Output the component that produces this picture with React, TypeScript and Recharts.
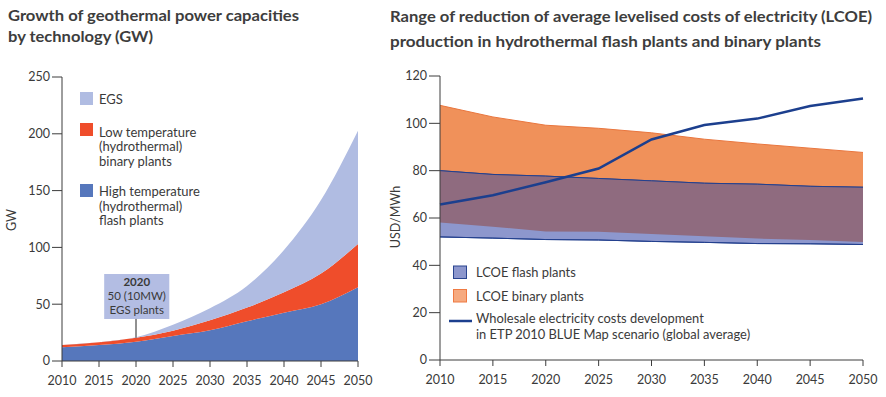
import {
  Area,
  AreaChart,
  ComposedChart,
  Line,
  ReferenceArea,
  ReferenceLine,
  XAxis,
  YAxis,
} from "recharts"

// left panel: installed capacity, GW (stacked)
const years = [2010, 2015, 2020, 2025, 2030, 2035, 2040, 2045, 2050]
const flashGW = [12, 14, 17, 22, 27, 35, 42.5, 50, 65]
const binaryGW = [2, 2.5, 3.5, 4.7, 8.8, 12, 18, 27, 38]
const egsGW = [0, 0, 0.5, 5.3, 10.6, 19, 37.2, 64.7, 99.7]
const gwTicks = [0, 50, 100, 150, 200, 250]

// right panel: LCOE ranges and wholesale price, USD/MWh
const flashLow = [52, 51.5, 50.9, 50.7, 50.1, 49.7, 49.2, 49.1, 48.8]
const flashHigh = [80, 78.4, 77.7, 76.7, 75.7, 74.7, 74.3, 73.4, 73]
const binaryLow = [58.1, 56.3, 54.3, 54.2, 53.2, 52.3, 51.3, 50.7, 49.9]
const binaryHigh = [107.6, 102.7, 99.2, 97.9, 96, 93.3, 91.3, 89.5, 87.7]
const wholesale = [65.7, 69.6, 75.1, 80.9, 93.2, 99.3, 102, 107.3, 110.5]
const usdTicks = [0, 20, 40, 60, 80, 100, 120]

// 2020 call-out box (in data units)
const noteBox = { x1: 2015.7, x2: 2024.5, y1: 37, y2: 76.6 }
const noteLines = ["2020", "50 (10MW)", "EGS plants"]

const TEXT = "#3a3a3a"
const AXIS = "#3c3c3c"
const FONT = "Lato, 'Open Sans', sans-serif"

const capData = years.map((year, i) => ({
  year,
  flash: flashGW[i],
  binary: binaryGW[i],
  egs: egsGW[i],
}))

const costData = years.map((year, i) => ({
  year,
  flash: [flashLow[i], flashHigh[i]],
  binary: [binaryLow[i], binaryHigh[i]],
  overlap: [
    Math.max(flashLow[i], binaryLow[i]),
    Math.min(flashHigh[i], binaryHigh[i]),
  ],
  wholesale: wholesale[i],
}))

const tickStyle = { fontSize: 12.5, fill: TEXT }

function NoteLabel(props: any) {
  const { x, y, width } = props.viewBox
  const cx = x + width / 2
  return (
    <g fontSize={11.5} fill={TEXT} textAnchor="middle">
      <text x={cx} y={y + 12.5} fontWeight={700}>
        {noteLines[0]}
      </text>
      <text x={cx} y={y + 26.5}>
        {noteLines[1]}
      </text>
      <text x={cx} y={y + 40}>
        {noteLines[2]}
      </text>
    </g>
  )
}

function Overlay() {
  return (
    <svg
      width={886}
      height={397}
      style={{ position: "absolute", left: 0, top: 0, pointerEvents: "none" }}
      fontFamily={FONT}
      fill={TEXT}
    >
      <g fontSize={16} fontWeight={700} fill="#3d3d3d">
        <text x={8} y={21} textLength={291} lengthAdjust="spacingAndGlyphs">
          Growth of geothermal power capacities
        </text>
        <text x={8} y={41.5} textLength={145} lengthAdjust="spacingAndGlyphs">
          by technology (GW)
        </text>
        <text x={390} y={21.5} textLength={482} lengthAdjust="spacingAndGlyphs">
          Range of reduction of average levelised costs of electricity (LCOE)
        </text>
        <text x={390} y={47} textLength={431} lengthAdjust="spacingAndGlyphs">
          production in hydrothermal flash plants and binary plants
        </text>
      </g>

      <text x={12} y={220} fontSize={12.5} textAnchor="middle" transform="rotate(-90 12 220)" dy={4}>
        GW
      </text>
      <text x={396} y={217} fontSize={12.5} textAnchor="middle" transform="rotate(-90 396 217)" dy={4}>
        USD/MWh
      </text>

      {/* left legend */}
      <g fontSize={13}>
        <rect x={80} y={92} width={13} height={13} fill="#b0bce2" />
        <text x={99} y={104}>EGS</text>
        <rect x={80} y={123} width={13} height={13} fill="#ef4d2b" />
        <text x={99} y={136.5}>Low temperature</text>
        <text x={99} y={151}>(hydrothermal)</text>
        <text x={99} y={165.5}>binary plants</text>
        <rect x={80} y={184} width={13} height={13} fill="#5677bc" />
        <text x={99} y={196}>High temperature</text>
        <text x={99} y={210.5}>(hydrothermal)</text>
        <text x={99} y={225}>flash plants</text>
      </g>

      {/* right legend */}
      <g fontSize={12.9}>
        <rect x={453.5} y={266} width={13} height={12.5} fill="#8d97cd" stroke="#2a4590" strokeWidth={1} />
        <text x={476} y={277}>LCOE flash plants</text>
        <rect x={453.5} y={289.5} width={13} height={12.5} fill="#f6aa80" stroke="#ef7a42" strokeWidth={1} />
        <text x={476} y={301}>LCOE binary plants</text>
        <line x1={449} x2={472} y1={321} y2={321} stroke="#1c3f8e" strokeWidth={2.5} />
        <text x={476} y={323}>Wholesale electricity costs development</text>
        <text x={476} y={339}>in ETP 2010 BLUE Map scenario (global average)</text>
      </g>
    </svg>
  )
}

export default function App() {
  return (
    <div
      style={{
        position: "absolute",
        left: 0,
        top: 0,
        width: 886,
        height: 397,
        background: "#fff",
        fontFamily: FONT,
      }}
    >
      <div style={{ position: "absolute", left: 0, top: 0 }}>
        <AreaChart
          width={380}
          height={397}
          data={capData}
          margin={{ top: 77, right: 22, bottom: 6, left: 0 }}
        >
          <XAxis
            dataKey="year"
            type="number"
            domain={[2010, 2050]}
            ticks={years}
            tick={tickStyle}
            tickSize={6}
            tickMargin={9}
            height={30}
            stroke={AXIS}
            interval={0}
          />
          <YAxis
            type="number"
            domain={[0, 250]}
            ticks={gwTicks}
            tick={tickStyle}
            tickSize={10}
            tickMargin={2}
            width={62}
            stroke={AXIS}
            interval={0}
          />
          <Area
            type="monotone"
            dataKey="flash"
            stackId="cap"
            fill="#5677bc"
            fillOpacity={1}
            stroke="none"
            isAnimationActive={false}
          />
          <Area
            type="monotone"
            dataKey="binary"
            stackId="cap"
            fill="#ef4d2b"
            fillOpacity={1}
            stroke="none"
            isAnimationActive={false}
          />
          <Area
            type="monotone"
            dataKey="egs"
            stackId="cap"
            fill="#b0bce2"
            fillOpacity={1}
            stroke="none"
            isAnimationActive={false}
          />
          <ReferenceLine
            segment={[
              { x: 2020, y: flashGW[2] + binaryGW[2] },
              { x: 2020, y: noteBox.y1 },
            ]}
            stroke="#222"
            strokeWidth={1}
          />
          <ReferenceArea
            x1={noteBox.x1}
            x2={noteBox.x2}
            y1={noteBox.y1}
            y2={noteBox.y2}
            fill="#b3bde3"
            fillOpacity={1}
            stroke="none"
            label={<NoteLabel />}
          />
        </AreaChart>
      </div>

      <div style={{ position: "absolute", left: 380, top: 0 }}>
        <ComposedChart
          width={506}
          height={397}
          data={costData}
          margin={{ top: 76, right: 23, bottom: 7, left: 0 }}
        >
          <XAxis
            dataKey="year"
            type="number"
            domain={[2010, 2050]}
            ticks={years}
            tick={tickStyle}
            tickSize={6}
            tickMargin={9}
            height={30}
            stroke={AXIS}
            interval={0}
          />
          <YAxis
            type="number"
            domain={[0, 120]}
            ticks={usdTicks}
            tick={tickStyle}
            tickSize={11}
            tickMargin={2}
            width={60}
            stroke={AXIS}
            interval={0}
          />
          <Area
            type="linear"
            dataKey="binary"
            fill="#f0915a"
            fillOpacity={1}
            stroke="#e9763e"
            strokeWidth={1}
            isAnimationActive={false}
          />
          <Area
            type="linear"
            dataKey="flash"
            fill="#8d97cd"
            fillOpacity={1}
            stroke="#23408e"
            strokeWidth={1}
            isAnimationActive={false}
          />
          <Area
            type="linear"
            dataKey="overlap"
            fill="#8f6b7f"
            fillOpacity={1}
            stroke="none"
            isAnimationActive={false}
          />
          <Area
            type="linear"
            dataKey="flash"
            fill="none"
            stroke="#23408e"
            strokeWidth={1}
            isAnimationActive={false}
          />
          <Line
            type="linear"
            dataKey="wholesale"
            stroke="#1c3f8e"
            strokeWidth={2.5}
            dot={false}
            isAnimationActive={false}
          />
        </ComposedChart>
      </div>

      <Overlay />
    </div>
  )
}
